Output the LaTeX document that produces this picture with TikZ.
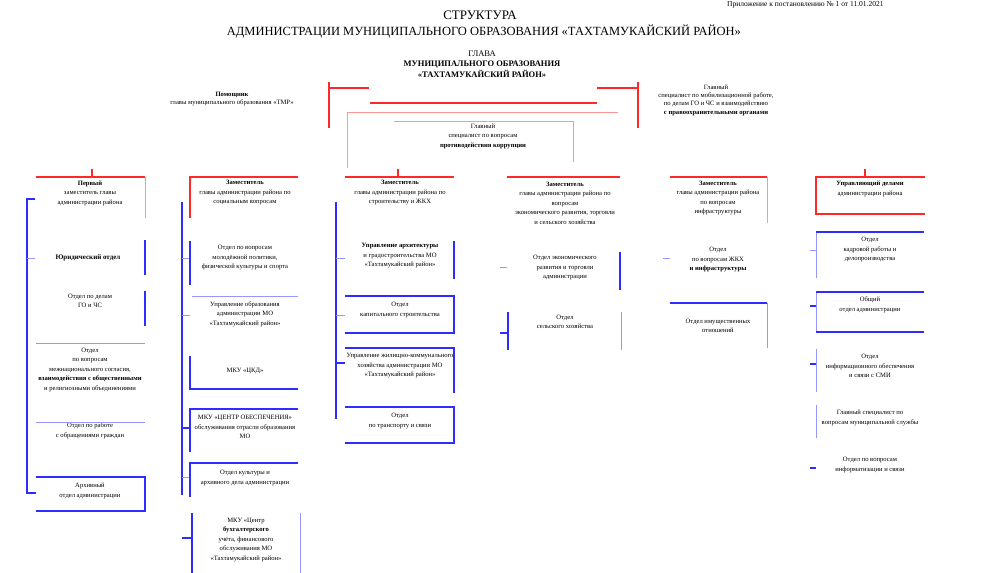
\documentclass[tikz,border=0pt]{standalone}
\usepackage{fontspec}
\setmainfont{Liberation Serif}
\definecolor{rd}{RGB}{255,40,40}
\definecolor{rdl}{RGB}{255,150,150}
\definecolor{bl}{RGB}{45,45,255}
\definecolor{bll}{RGB}{150,150,255}
\begin{document}
\begin{tikzpicture}[x=1pt,y=-1pt,
  txt/.style={align=center,inner sep=0pt,font=\fontsize{6.6}{9.5}\selectfont},
  rl/.style={draw=rd,line width=1.2pt},rll/.style={draw=rdl,line width=1pt},
  bln/.style={draw=bl,line width=1.2pt},blt/.style={draw=bll,line width=1pt}]
\useasboundingbox (0,0) rectangle (1005,573);
% titles
\node[txt,font=\fontsize{7.5}{8}\selectfont,anchor=west] (appx) at (727,5) {Приложение к постановлению № 1 от 11.01.2021};
\node[font=\fontsize{13}{14}\selectfont] (ttl) at (480,15) {СТРУКТУРА};
\node[font=\fontsize{12.5}{14}\selectfont] (ttlB) at (484,32) {АДМИНИСТРАЦИИ МУНИЦИПАЛЬНОГО ОБРАЗОВАНИЯ «ТАХТАМУКАЙСКИЙ РАЙОН»};
\node[txt,font=\fontsize{8.5}{10.5}\bfseries] (glava) at (482,64) {\mdseries ГЛАВА\\МУНИЦИПАЛЬНОГО ОБРАЗОВАНИЯ\\«ТАХТАМУКАЙСКИЙ РАЙОН»};
\node[txt,font=\fontsize{6.6}{8.5}\selectfont] (pom) at (232,99) {\textbf{Помощник}\\главы муниципального образования «ТМР»};
\node[txt,font=\fontsize{6.6}{8.3}\selectfont] (mob) at (716,100) {Главный\\специалист по мобилизационной работе,\\по делам ГО и ЧС и взаимодействию\\\textbf{с правоохранительными органами}};
\node[txt] (korr) at (483,136) {Главный\\специалист по вопросам\\\textbf{противодействия коррупции}};
\draw[rl] (329,82) -- (329,128) (329,88) -- (369,88);
\draw[rl] (638,82) -- (638,128) (638,88) -- (597,88);
\draw[rl] (370,103) -- (597,103);
\draw[rll] (618,112) -- (347,112) -- (347,168);
\draw[rll] (394,121) -- (573,121) -- (573,162);
% deputies
\node[txt] (zam1) at (90,193) {\textbf{Первый}\\заместитель главы\\администрации района};
\node[txt] (zam2) at (245,193) {\textbf{Заместитель}\\главы администрации района по\\социальным вопросам};
\node[txt] (zam3) at (400,193) {\textbf{Заместитель}\\главы администрации района по\\строительству и ЖКХ};
\node[txt] (zam4) at (565,203) {\textbf{Заместитель}\\главы администрации района по\\вопросам\\экономического развития, торговли\\и сельского хозяйства};
\node[txt] (zam5) at (718,198) {\textbf{Заместитель}\\главы администрации района\\по вопросам\\инфраструктуры};
\node[txt] (upr) at (870,189) {\textbf{Управляющий делами}\\администрации района};
\draw[rl] (36,177) -- (145,177) (92,169) -- (92,177); \draw[rll] (145,177) -- (145,218);
\draw[rl] (298,177) -- (190,177) -- (190,218);
\draw[rl] (345,177) -- (454,177) (398,169) -- (398,177);
\draw[rl] (507,177) -- (620,177);
\draw[rl] (670,177) -- (767,177); \draw[rll] (767,177) -- (767,223);
\draw[rl] (865,169) -- (865,177) (925,177) -- (816,177) -- (816,214) -- (925,214);
% first column
\node[txt,font=\fontsize{7}{9.5}\bfseries] (jur) at (88,258) {Юридический отдел};
\node[txt,font=\fontsize{6.6}{8.5}\selectfont] (gochs) at (90,301) {Отдел по делам\\ГО и ЧС};
\node[txt] (nac) at (90,370) {Отдел\\по вопросам\\межнационального согласия,\\\textbf{взаимодействия с общественными}\\и религиозными объединениями};
\node[txt] (obr) at (90,431) {Отдел по работе\\с обращениями граждан};
\node[txt] (arh) at (90,491) {Архивный\\отдел администрации};
\draw[bln] (35,199) -- (27,199) -- (27,493) -- (36,493); \draw[blt] (27,258) -- (35,258);
\draw[bln] (145,240) -- (145,275) (145,291) -- (145,326);
\draw[blt] (36,343) -- (145,343) (36,422) -- (145,422);
\draw[bln] (36,477) -- (145,477) -- (145,511) -- (36,511);
% second column
\node[txt] (mol) at (245,258) {Отдел по вопросам\\молодёжной политики,\\физической культуры и спорта};
\node[txt] (uo) at (245,314) {Управление образования\\администрации МО\\«Тахтамукайский район»};
\node[txt] (mku) at (245,371) {МКУ «ЦКД»};
\node[txt] (cobr) at (245,427) {МКУ «ЦЕНТР ОБЕСПЕЧЕНИЯ»\\обслуживания отрасли образования\\МО};
\node[txt] (kult) at (245,478) {Отдел культуры и\\архивного дела администрации};
\node[txt] (buh) at (246,540) {МКУ «Центр\\\textbf{бухгалтерского}\\учёта, финансового\\обслуживания МО\\«Тахтамукайский район»};
\draw[bln] (182,202) -- (182,495);
\draw[blt] (182,258) -- (190,258) (182,315) -- (190,315) (182,477) -- (190,477);
\draw[bln] (182,428) -- (190,428) (182,538) -- (192,538);
\draw[bln] (190,241) -- (190,285); \draw[blt] (192,296) -- (298,296);
\draw[bln] (190,356) -- (190,389) -- (298,389);
\draw[bln] (298,409) -- (190,409) -- (190,452) (298,463) -- (190,463) -- (190,497);
\draw[bln] (192,513) -- (192,573); \draw[blt] (300,513) -- (300,573);
% third column
\node[txt] (arch) at (400,256) {\textbf{Управление архитектуры}\\и градостроительства МО\\«Тахтамукайский район»};
\node[txt] (kap) at (400,310) {Отдел\\капитального строительства};
\node[txt] (gkh) at (400,366) {Управление жилищно-коммунального\\хозяйства администрации МО\\«Тахтамукайский район»};
\node[txt] (trans) at (400,421) {Отдел\\по транспорту и связи};
\draw[bln] (336,202) -- (336,419) (336,363) -- (345,363);
\draw[blt] (336,258) -- (345,258) (336,315) -- (345,315);
\draw[bln] (454,241) -- (454,279) (345,296) -- (454,296) -- (454,333) -- (345,333);
\draw[bln] (345,348) -- (454,348) -- (454,393) (345,407) -- (454,407) -- (454,443) -- (345,443);
% fourth column
\node[txt] (econ) at (565,268) {Отдел экономического\\развития и торговли\\администрации};
\node[txt] (selh) at (565,322) {Отдел\\сельского хозяйства};
\draw[blt] (500,267) -- (507,267) (621,312) -- (621,350);
\draw[bln] (620,252) -- (620,290) (500,333) -- (508,333) (508,312) -- (508,350);
% fifth column
\node[txt] (infr) at (718,260) {Отдел\\по вопросам ЖКХ\\\textbf{и инфраструктуры}};
\node[txt] (imush) at (718,326) {Отдел имущественных\\отношений};
\draw[blt] (663,258) -- (670,258) (767,303) -- (767,348);
\draw[bln] (670,303) -- (767,303);
% sixth column
\node[txt] (kadr) at (870,250) {Отдел\\кадровой работы и\\делопроизводства};
\node[txt] (obsh) at (870,305) {Общий\\отдел администрации};
\node[txt] (smi) at (870,366) {Отдел\\информационного обеспечения\\и связи с СМИ};
\node[txt] (msl) at (870,418) {Главный специалист по\\вопросам муниципальной службы};
\node[txt] (inf) at (870,465) {Отдел по вопросам\\информатизации и связи};
\draw[blt] (810,250) -- (816,250) (816,232) -- (816,278) (816,292) -- (816,332);
\draw[blt] (816,349) -- (816,392) (816,405) -- (816,438);
\draw[bln] (924,232) -- (816,232) (924,292) -- (816,292) (816,332) -- (924,332);
\draw[bln] (810,306) -- (816,306) (810,364) -- (816,364) (810,468) -- (816,468);
\end{tikzpicture}
\end{document}
